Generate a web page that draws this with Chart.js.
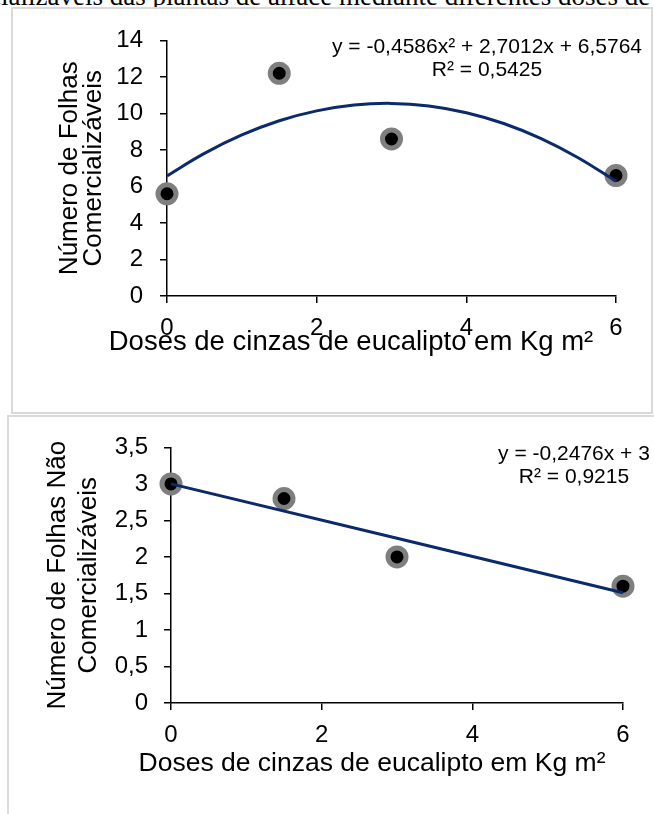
<!DOCTYPE html>
<html>
<head>
<meta charset="utf-8">
<script src="https://cdn.jsdelivr.net/npm/chart.js@4"></script>
<style>
body{margin:0;width:654px;height:814px;overflow:hidden;background:#fff;position:relative;font-family:"Liberation Sans",Arial,sans-serif}
.frame{position:absolute;box-sizing:border-box;border:2px solid #d9d9d9;background:#fff}
.frame canvas{display:block}
.eq{position:absolute;transform:translateX(-50%);text-align:center;font-size:21px;line-height:23px;color:#000;white-space:nowrap}
.xt{position:absolute;transform:translate(-50%,-50%);color:#000;white-space:nowrap;line-height:1}
.cap{position:absolute;left:0;top:0;width:654px;height:9px;overflow:hidden}
.cap span{position:absolute;left:-20px;top:-17px;font:27px/27px "Liberation Serif","Times New Roman",serif;white-space:nowrap;color:#000}
</style>
</head>
<body>
<div class="cap"><span>rcializáveis das plantas de alface mediante diferentes doses de cinzas</span></div>

<div class="frame" style="left:11px;top:7px;width:642px;height:407px">
 <canvas id="c1" width="638" height="403"></canvas>
</div>
<div class="eq" style="left:487px;top:34px">y = -0,4586x² + 2,7012x + 6,5764<br>R² = 0,5425</div>
<div class="xt" id="xt1" style="left:351px;top:341px;font-size:27.5px"></div>

<div class="frame" style="left:7px;top:415px;width:700px;height:500px">
 <canvas id="c2" width="645" height="397"></canvas>
</div>
<div class="eq" style="left:574px;top:441px">y = -0,2476x + 3<br>R² = 0,9215</div>
<div class="xt" id="xt2" style="left:372px;top:762px;font-size:26.5px"></div>

<script>
/* ===== DATA ===== */
const doses=[0,1.5,3,6]
const folhasCom=[5.6,12.2,8.6,6.6]
const folhasNaoCom=[3.0,2.8,2.0,1.6]

// trend lines
const curveX=[0,0.5,1,1.5,2,2.5,3,3.5,4,4.5,5,5.5,6]
const curveCom=[6.58,7.81,8.82,9.6,10.14,10.46,10.55,10.41,10.04,9.45,8.62,7.56,6.28]
const lineX=[0,6]
const lineNaoCom=[3.0,1.51]

const xTicks=[0,2,4,6]
const yTicksCom=[0,2,4,6,8,10,12,14]
const yTicksNao=[0,0.5,1,1.5,2,2.5,3,3.5]

const xTitle="Doses de cinzas de eucalipto em Kg m²"

/* ===== HELPERS ===== */
const FONT='"Liberation Sans", Arial, sans-serif'
const pts=(xs,ys)=>xs.map((x,i)=>({x,y:ys[i]}))
const comma=v=>String(v).replace(".",",")

function axis(ticks,o){
 return {
  type:"linear",min:ticks[0],max:ticks[ticks.length-1],
  afterBuildTicks:s=>{s.ticks=ticks.map(v=>({value:v}))},
  afterFit:s=>{ if(o.w!=null) s.width=o.w; if(o.h!=null) s.height=o.h },
  border:{color:"#000",width:1.5},
  grid:{drawOnChartArea:false,drawTicks:true,tickLength:7,color:"#000",lineWidth:1.5},
  ticks:{color:"#000",font:{family:FONT,size:24},padding:o.pad,callback:v=>comma(v)},
  title:{display:!!o.title,text:o.title,color:"#000",
   font:{family:FONT,size:26,lineHeight:o.lh||1.2},padding:o.tpad}
 }
}

function build(id,cfg){
 return new Chart(document.getElementById(id),{
  type:"scatter",
  data:{datasets:[
   {data:cfg.trend,showLine:true,pointRadius:0,borderColor:"#0a2a6b",borderWidth:3,tension:0.4,order:0,clip:false},
   {data:cfg.points,pointRadius:9,pointBorderWidth:5,backgroundColor:"#000",borderColor:"#7f7f7f",
    pointHoverRadius:9,order:1,clip:false}
  ]},
  options:{
   responsive:false,animation:false,
   layout:{padding:cfg.padding},
   plugins:{legend:{display:false},tooltip:{enabled:false}},
   scales:{x:cfg.x,y:cfg.y}
  }
 })
}

/* ===== TOP CHART ===== */
build("c1",{
 points:pts(doses,folhasCom),
 trend:pts(curveX,curveCom),
 padding:{top:28,right:35,left:0,bottom:0},
 x:axis(xTicks,{h:116,pad:11}),
 y:axis(yTicksCom,{w:154,pad:17,lh:0.92,title:["Número de Folhas","Comercializáveis"],tpad:{top:45,bottom:0}})
})

/* ===== BOTTOM CHART ===== */
build("c2",{
 points:pts(doses,folhasNaoCom),
 trend:pts(lineX,lineNaoCom),
 padding:{top:28,right:31,left:0,bottom:0},
 x:axis(xTicks,{h:111,pad:11}),
 y:axis(yTicksNao,{w:162,pad:16,title:["Número de Folhas Não","Comercializáveis"],tpad:{top:33,bottom:0}})
})

xt1.textContent=xTitle
xt2.textContent=xTitle
</script>
</body>
</html>
